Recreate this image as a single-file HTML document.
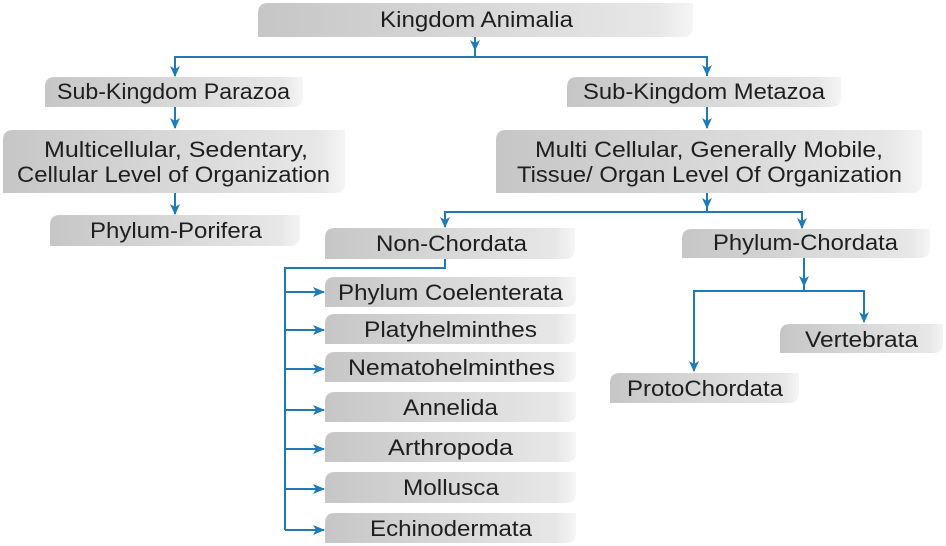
<!DOCTYPE html>
<html>
<head>
<meta charset="utf-8">
<style>
  html, body { margin: 0; padding: 0; background: #ffffff; }
  svg { display: block; }
  text { font-family: "Liberation Sans", "DejaVu Sans", sans-serif; font-size: 22px; fill: #1e1e1e; }
</style>
</head>
<body>
<svg width="946" height="546" viewBox="0 0 946 546" xmlns="http://www.w3.org/2000/svg">
  <defs>
    <linearGradient id="g" x1="0" y1="0" x2="1" y2="0">
      <stop offset="0" stop-color="#c6c6c6"/>
      <stop offset="0.5" stop-color="#d8d8d8"/>
      <stop offset="0.92" stop-color="#e7e7e7"/>
      <stop offset="1" stop-color="#f5f5f5"/>
    </linearGradient>
  </defs>

  <!-- Boxes: rounded top-left & bottom-right -->
  <g fill="url(#g)">
    <path d="M258,13 Q258,3 268,3 H693 V27 Q693,37 683,37 H258 Z"/>
    <path d="M45,87 Q45,77 55,77 H303 V97 Q303,107 293,107 H45 Z"/>
    <path d="M3,140 Q3,130 13,130 H345 V183 Q345,193 335,193 H3 Z"/>
    <path d="M50,225 Q50,215 60,215 H300 V236 Q300,246 290,246 H50 Z"/>
    <path d="M567,87 Q567,77 577,77 H841 V97 Q841,107 831,107 H567 Z"/>
    <path d="M496,140 Q496,130 506,130 H922 V183 Q922,193 912,193 H496 Z"/>
    <path d="M325,238 Q325,228 335,228 H575 V249 Q575,259 565,259 H325 Z"/>
    <path d="M682,239 Q682,229 692,229 H930 V248 Q930,258 920,258 H682 Z"/>
    <path d="M325,287 Q325,277 335,277 H576 V297 Q576,307 566,307 H325 Z"/>
    <path d="M325,324 Q325,314 335,314 H576 V334 Q576,344 566,344 H325 Z"/>
    <path d="M325,362 Q325,352 335,352 H576 V372 Q576,382 566,382 H325 Z"/>
    <path d="M325,402 Q325,392 335,392 H576 V412 Q576,422 566,422 H325 Z"/>
    <path d="M325,442 Q325,432 335,432 H576 V452 Q576,462 566,462 H325 Z"/>
    <path d="M325,482 Q325,472 335,472 H576 V493 Q576,503 566,503 H325 Z"/>
    <path d="M325,523 Q325,513 335,513 H576 V533 Q576,543 566,543 H325 Z"/>
    <path d="M780,334 Q780,324 790,324 H943 V343 Q943,353 933,353 H780 Z"/>
    <path d="M610,383 Q610,373 620,373 H799 V393 Q799,403 789,403 H610 Z"/>
  </g>

  <!-- Connector lines -->
  <g stroke="#1f7ab8" stroke-width="2" fill="none">
    <line x1="475" y1="37" x2="475" y2="57"/>
    <polyline points="175,76 175,57 707,57 707,76"/>
    <line x1="175" y1="107" x2="175" y2="128"/>
    <line x1="175" y1="193" x2="175" y2="214"/>
    <line x1="707" y1="107" x2="707" y2="128"/>
    <line x1="707" y1="193" x2="707" y2="212"/>
    <polyline points="445,227 445,212 802,212 802,228"/>
    <polyline points="445,259 445,268 285,268 285,530"/>
    <line x1="285" y1="292" x2="324" y2="292"/>
    <line x1="285" y1="330" x2="324" y2="330"/>
    <line x1="285" y1="369" x2="324" y2="369"/>
    <line x1="285" y1="410" x2="324" y2="410"/>
    <line x1="285" y1="449" x2="324" y2="449"/>
    <line x1="285" y1="489" x2="324" y2="489"/>
    <line x1="285" y1="530" x2="324" y2="530"/>
    <line x1="804" y1="258" x2="804" y2="291"/>
    <polyline points="694,371 694,291 864,291 864,322"/>
  </g>

  <!-- Arrowheads -->
  <g fill="#1f7ab8">
    <polygon points="470,40 475,51 480,40 475,43"/>
    <polygon points="170,66 175,77 180,66 175,69"/>
    <polygon points="702,65 707,76 712,65 707,68"/>
    <polygon points="170,118 175,129 180,118 175,121"/>
    <polygon points="170,204 175,215 180,204 175,207"/>
    <polygon points="702,118 707,129 712,118 707,121"/>
    <polygon points="702,198 707,209 712,198 707,201"/>
    <polygon points="440,217 445,228 450,217 445,220"/>
    <polygon points="797,218 802,229 807,218 802,221"/>
    <polygon points="799,276 804,287 809,276 804,279"/>
    <polygon points="689,361 694,372 699,361 694,364"/>
    <polygon points="859,312 864,323 869,312 864,315"/>
    <polygon points="313,287 325,292 313,297 316,292"/>
    <polygon points="313,325 325,330 313,335 316,330"/>
    <polygon points="313,364 325,369 313,374 316,369"/>
    <polygon points="313,405 325,410 313,415 316,410"/>
    <polygon points="313,444 325,449 313,454 316,449"/>
    <polygon points="313,484 325,489 313,494 316,489"/>
    <polygon points="313,525 325,530 313,535 316,530"/>
  </g>

  <!-- Labels -->
  <g>
    <text x="380" y="27" textLength="193" lengthAdjust="spacingAndGlyphs">Kingdom Animalia</text>
    <text x="57" y="99" textLength="233" lengthAdjust="spacingAndGlyphs">Sub-Kingdom Parazoa</text>
    <text x="44" y="157" textLength="264" lengthAdjust="spacingAndGlyphs">Multicellular, Sedentary,</text>
    <text x="17" y="182" textLength="313" lengthAdjust="spacingAndGlyphs">Cellular Level of Organization</text>
    <text x="90" y="238" textLength="172" lengthAdjust="spacingAndGlyphs">Phylum-Porifera</text>
    <text x="583" y="99" textLength="242" lengthAdjust="spacingAndGlyphs">Sub-Kingdom Metazoa</text>
    <text x="535" y="157" textLength="348" lengthAdjust="spacingAndGlyphs">Multi Cellular, Generally Mobile,</text>
    <text x="517" y="182" textLength="385" lengthAdjust="spacingAndGlyphs">Tissue/ Organ Level Of Organization</text>
    <text x="376" y="251" textLength="151" lengthAdjust="spacingAndGlyphs">Non-Chordata</text>
    <text x="713" y="250" textLength="185" lengthAdjust="spacingAndGlyphs">Phylum-Chordata</text>
    <text x="338" y="300" textLength="225" lengthAdjust="spacingAndGlyphs">Phylum Coelenterata</text>
    <text x="364" y="337" textLength="173" lengthAdjust="spacingAndGlyphs">Platyhelminthes</text>
    <text x="348" y="375" textLength="207" lengthAdjust="spacingAndGlyphs">Nematohelminthes</text>
    <text x="403" y="415" textLength="95" lengthAdjust="spacingAndGlyphs">Annelida</text>
    <text x="388" y="455" textLength="125" lengthAdjust="spacingAndGlyphs">Arthropoda</text>
    <text x="403" y="495" textLength="96" lengthAdjust="spacingAndGlyphs">Mollusca</text>
    <text x="370" y="536" textLength="162" lengthAdjust="spacingAndGlyphs">Echinodermata</text>
    <text x="805" y="347" textLength="113" lengthAdjust="spacingAndGlyphs">Vertebrata</text>
    <text x="627" y="396" textLength="156" lengthAdjust="spacingAndGlyphs">ProtoChordata</text>
  </g>
</svg>
</body>
</html>
